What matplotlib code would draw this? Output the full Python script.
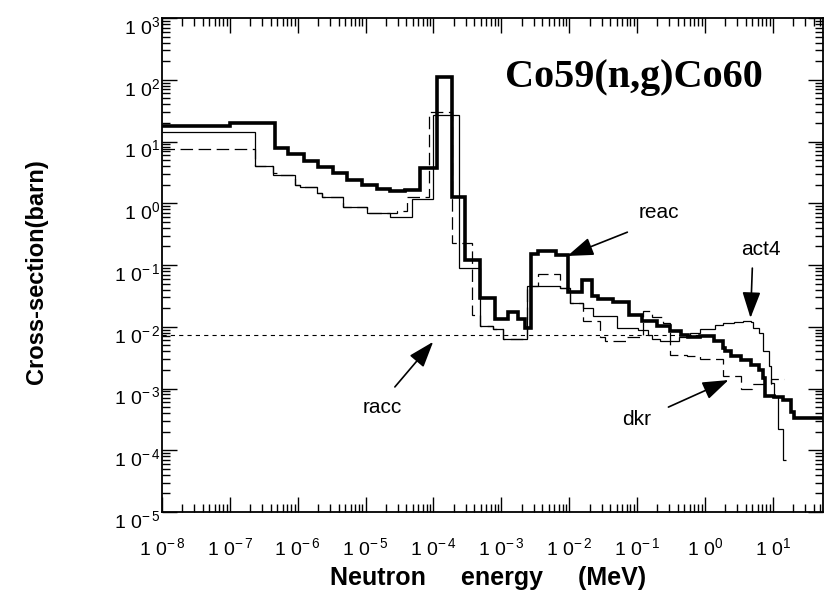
import matplotlib
matplotlib.use('Agg')
import matplotlib.pyplot as plt
import matplotlib.transforms as mtransforms
from matplotlib.ticker import LogLocator, FuncFormatter, NullFormatter
import numpy as np

plt.rcParams['font.family'] = ['Liberation Sans', 'DejaVu Sans']
plt.rcParams['mathtext.default'] = 'regular'
plt.rcParams['lines.scale_dashes'] = False

# group boundaries (MeV) and cross sections (barn)
reac_edges = [1e-8, 1.0e-7, 4.65e-7, 7.2e-7, 1.24e-6, 2.0e-6, 3.3e-6, 5.35e-6, 8.9e-6,
              1.48e-5, 2.3e-5, 3.85e-5, 6.4e-5, 1.14e-4, 1.9e-4, 2.94e-4, 4.9e-4, 8.2e-4,
              1.27e-3, 1.78e-3, 2.26e-3, 2.77e-3, 3.5e-3, 6.3e-3, 9.7e-3, 1.57e-2, 2.2e-2,
              2.7e-2, 4.5e-2, 7.5e-2, 0.12, 0.2, 0.31, 0.44, 0.57, 0.86, 1.34, 1.82, 2.0,
              2.4, 3.35, 4.7, 6.2, 7.1, 7.8, 10.3, 14.0, 18.3, 20.3, 55.0]
reac_vals = [17.8, 20.3, 7.9, 6.3, 4.9, 3.9, 3.05, 2.38, 1.97, 1.68, 1.55, 1.65, 3.7, 110,
             1.26, 0.12, 0.029, 0.0134, 0.0174, 0.0134, 0.0097, 0.15, 0.17, 0.145, 0.036,
             0.0575, 0.031, 0.028, 0.0255, 0.0155, 0.0122, 0.0101, 0.0086, 0.0074, 0.0068,
             0.0072, 0.0058, 0.0046, 0.0040, 0.0033, 0.0029, 0.0024, 0.0020, 0.00146,
             0.00076, 0.00072, 0.00065, 0.00041, 0.000336]

act4_edges = [1e-8, 2.36e-7, 4.34e-7, 9.2e-7, 1.08e-6, 1.93e-6, 2.29e-6, 4.68e-6, 1.06e-5,
              2.3e-5, 4.87e-5, 9.9e-5, 2.4e-4, 4.9e-4, 7.6e-4, 1.07e-3, 2.42e-3, 7.4e-3,
              1.04e-2, 1.62e-2, 2.27e-2, 5.1e-2, 0.105, 0.147, 0.169, 0.221, 0.41, 0.61,
              0.86, 1.43, 1.82, 2.64, 3.59, 4.7, 5.2, 6.2, 7.1, 7.3, 8.7, 9.3, 10.3, 11.8,
              14.0, 15.5]
act4_vals = [14.4, 4.07, 2.9, 1.97, 1.86, 1.47, 1.28, 0.88, 0.70, 0.605, 1.17, 26.8, 0.089,
             0.0101, 0.0092, 0.0064, 0.046, 0.043, 0.024, 0.0198, 0.0149, 0.0094, 0.0088,
             0.0074, 0.0064, 0.0059, 0.0068, 0.0078, 0.0092, 0.0106, 0.0115, 0.0119, 0.0125,
             0.012, 0.0094, 0.0078, 0.0064, 0.0040, 0.0023, 0.00121, 0.00072, 2.2e-4, 7.0e-5]

dkr_edges = [1e-8, 2.36e-7, 4.34e-7, 5.14e-7, 9.2e-7, 1.08e-6, 1.93e-6, 2.29e-6, 4.68e-6,
             1.06e-5, 2.92e-5, 4.11e-5, 8.7e-5, 1.9e-4, 3.73e-4, 4.9e-4, 7.6e-4, 1.07e-3,
             2.42e-3, 3.5e-3, 7.4e-3, 1.04e-2, 1.62e-2, 2.89e-2, 3.42e-2, 7.2e-2, 0.124,
             0.169, 0.245, 0.31, 0.55, 0.86, 1.82, 3.35, 5.0, 9.3, 14.4]
dkr_vals = [7.6, 4.07, 3.05, 2.9, 1.97, 1.86, 1.47, 1.28, 0.88, 0.70, 0.74, 1.25, 30.5, 0.23,
            0.0155, 0.0101, 0.0092, 0.0064, 0.046, 0.072, 0.043, 0.024, 0.0122, 0.0068,
            0.0058, 0.0068, 0.0178, 0.0145, 0.0115, 0.0035, 0.0033, 0.0030, 0.0016, 0.0010,
            0.0012, 0.0014]

racc_edges = [1e-8, 0.9]
racc_vals = [0.0073]

# label text position, arrow tail, arrow tip (MeV, barn)
labels = ['reac', 'act4', 'racc', 'dkr']
label_pos = [(0.207, 0.70), (6.6, 0.175), (1.76e-5, 5.0e-4), (0.10, 3.1e-4)]
arrow_tail = [(0.072, 0.34), (5.0, 0.089), (2.7e-5, 1.06e-3), (0.29, 5.0e-4)]
arrow_tip = [(9.4e-3, 0.14), (4.7, 0.0139), (9.9e-5, 5.7e-3), (2.23, 1.37e-3)]


def decade(v, pos):
    e = int(round(np.log10(v)))
    if e < 0:
        return r'1 0$^{-\,%d}$' % -e
    return r'1 0$^{%d}$' % e


fig = plt.figure(figsize=(8.25, 6.02), dpi=100)
ax = fig.add_axes([162 / 825, 1 - 512 / 602, (823 - 162) / 825, (512 - 18) / 602])
ax.set_xscale('log')
ax.set_yscale('log')
ax.set_xlim(1e-8, 55)
ax.set_ylim(1e-5, 1e3)

ax.stairs(reac_vals, reac_edges, baseline=None, color='black', lw=2.6)
ax.stairs(act4_vals, act4_edges, baseline=None, color='black', lw=0.9)
ax.stairs(dkr_vals, dkr_edges, baseline=None, color='black', lw=0.9, linestyle=(0, (9, 4)))
ax.stairs(racc_vals, racc_edges, baseline=None, color='black', lw=0.8, linestyle=(0, (3, 3)))

for name, p, t, h in zip(labels, label_pos, arrow_tail, arrow_tip):
    ax.text(p[0], p[1], name, ha='center', va='center', fontsize=15)
    ax.annotate('', xy=h, xytext=t,
                arrowprops=dict(arrowstyle='-|>,head_length=0.8,head_width=0.28',
                                mutation_scale=20, lw=1.2, color='black',
                                shrinkA=0, shrinkB=0))

ax.text(0.714, 0.879, 'Co59(n,g)Co60', transform=ax.transAxes, ha='center', va='center',
        fontsize=29, fontweight='bold', family='Liberation Serif')

for axis in (ax.xaxis, ax.yaxis):
    axis.set_major_locator(LogLocator(base=10, numticks=20))
    axis.set_minor_locator(LogLocator(base=10, subs=np.arange(2, 10), numticks=20))
    axis.set_major_formatter(FuncFormatter(decade))
    axis.set_minor_formatter(NullFormatter())

ax.tick_params(which='both', direction='in', top=True, right=True, width=1.0)
ax.tick_params(which='major', length=11)
ax.tick_params(which='minor', length=5.5)
ax.tick_params(axis='x', which='major', pad=18, labelsize=14)
ax.tick_params(axis='y', which='major', pad=1, labelsize=14)
for sp in ax.spines.values():
    sp.set_linewidth(1.3)

shift = mtransforms.ScaledTranslation(0, -5 / 72, fig.dpi_scale_trans)
for lab in ax.get_yticklabels():
    lab.set_transform(lab.get_transform() + shift)

fig.text(37 / 825, 1 - 272 / 602, 'Cross-section(barn)', rotation=90, ha='center',
         va='center', fontsize=17, fontweight='bold')
fig.text(488 / 825, 1 - 578 / 602, 'Neutron     energy     (MeV)', ha='center', va='center',
         fontsize=18, fontweight='bold')

fig.savefig('out.png', dpi=100)
